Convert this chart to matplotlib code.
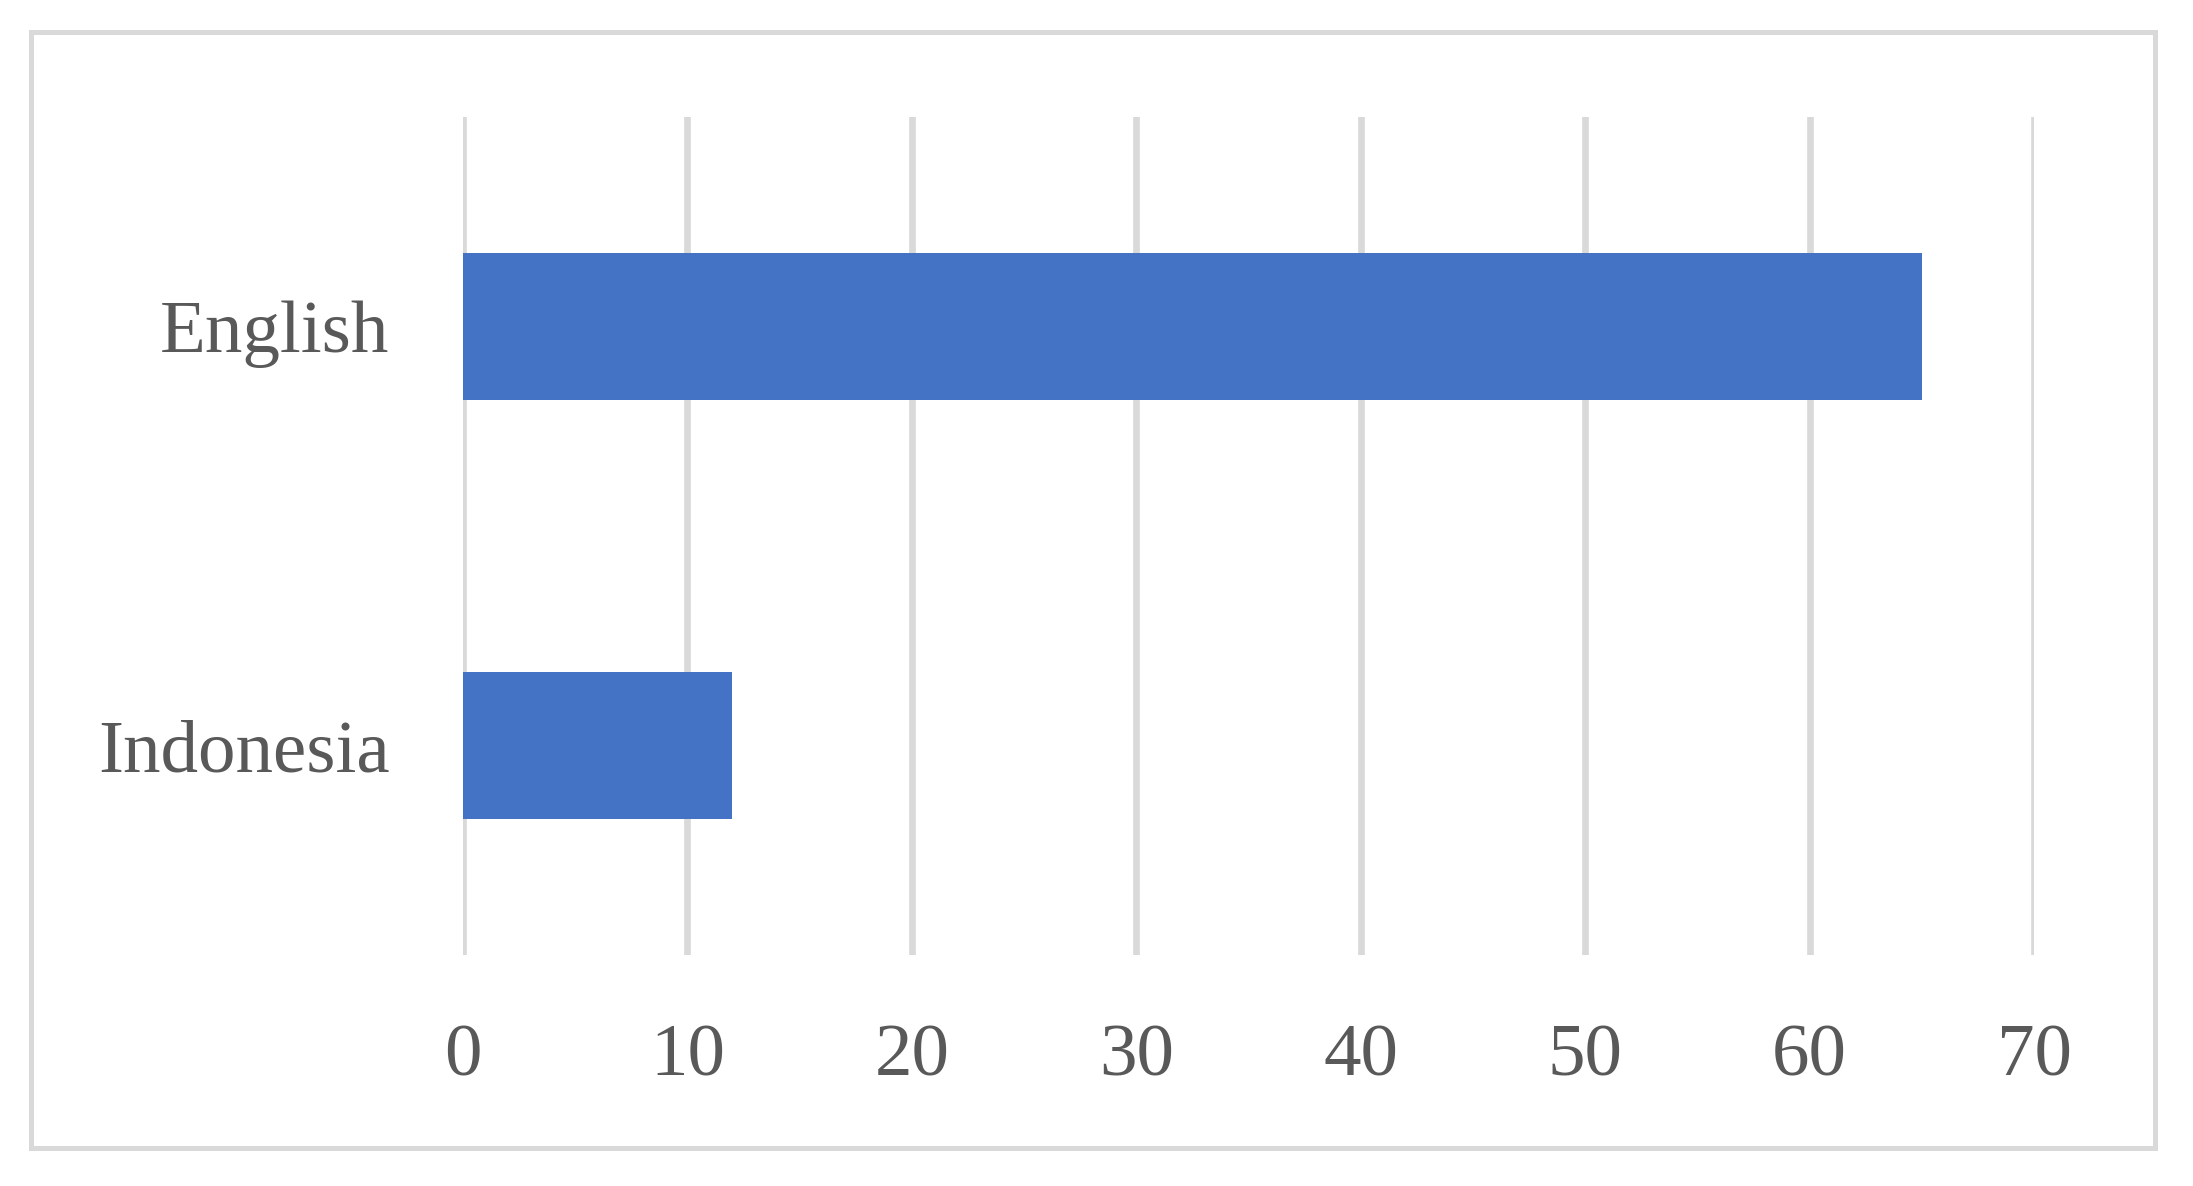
import matplotlib
matplotlib.use("Agg")
import matplotlib.pyplot as plt
from matplotlib.patches import Rectangle

categories = ["Indonesia", "English"]
values = [12, 65]
xticks = [0, 10, 20, 30, 40, 50, 60, 70]

W, H = 2193, 1186
fig = plt.figure(figsize=(W / 100, H / 100), dpi=100)
fig.patch.set_facecolor("white")

# outer frame
fig.patches.append(Rectangle((31 / W, 1 - 1148 / H), (2155 - 31) / W, (1148 - 32) / H,
                             transform=fig.transFigure, fill=False,
                             edgecolor="#D9D9D9", linewidth=3.6))

ax = fig.add_axes([463 / W, 1 - 955 / H, (2034 - 463) / W, (955 - 117) / H])
ax.barh(range(len(categories)), values, height=0.353, color="#4472C4", zorder=3)
ax.set_xlim(0, 70)
ax.set_ylim(-0.5, 1.5)
ax.set_xticks(xticks)
ax.set_xticklabels([str(t) for t in xticks])
ax.set_yticks(range(len(categories)))
ax.set_yticklabels(categories)
for s in ax.spines.values():
    s.set_visible(False)
ax.grid(axis="x", color="#D9D9D9", linewidth=4.8, zorder=0)
ax.set_axisbelow(True)
ax.tick_params(axis="both", length=0, colors="#595959")
ax.tick_params(axis="x", pad=50)
ax.tick_params(axis="y", pad=53)
for lab in ax.get_xticklabels() + ax.get_yticklabels():
    lab.set_fontfamily(["Liberation Serif", "DejaVu Serif"])
    lab.set_fontsize(54)
    lab.set_color("#595959")

fig.savefig("out.png", dpi=100, facecolor="white")
